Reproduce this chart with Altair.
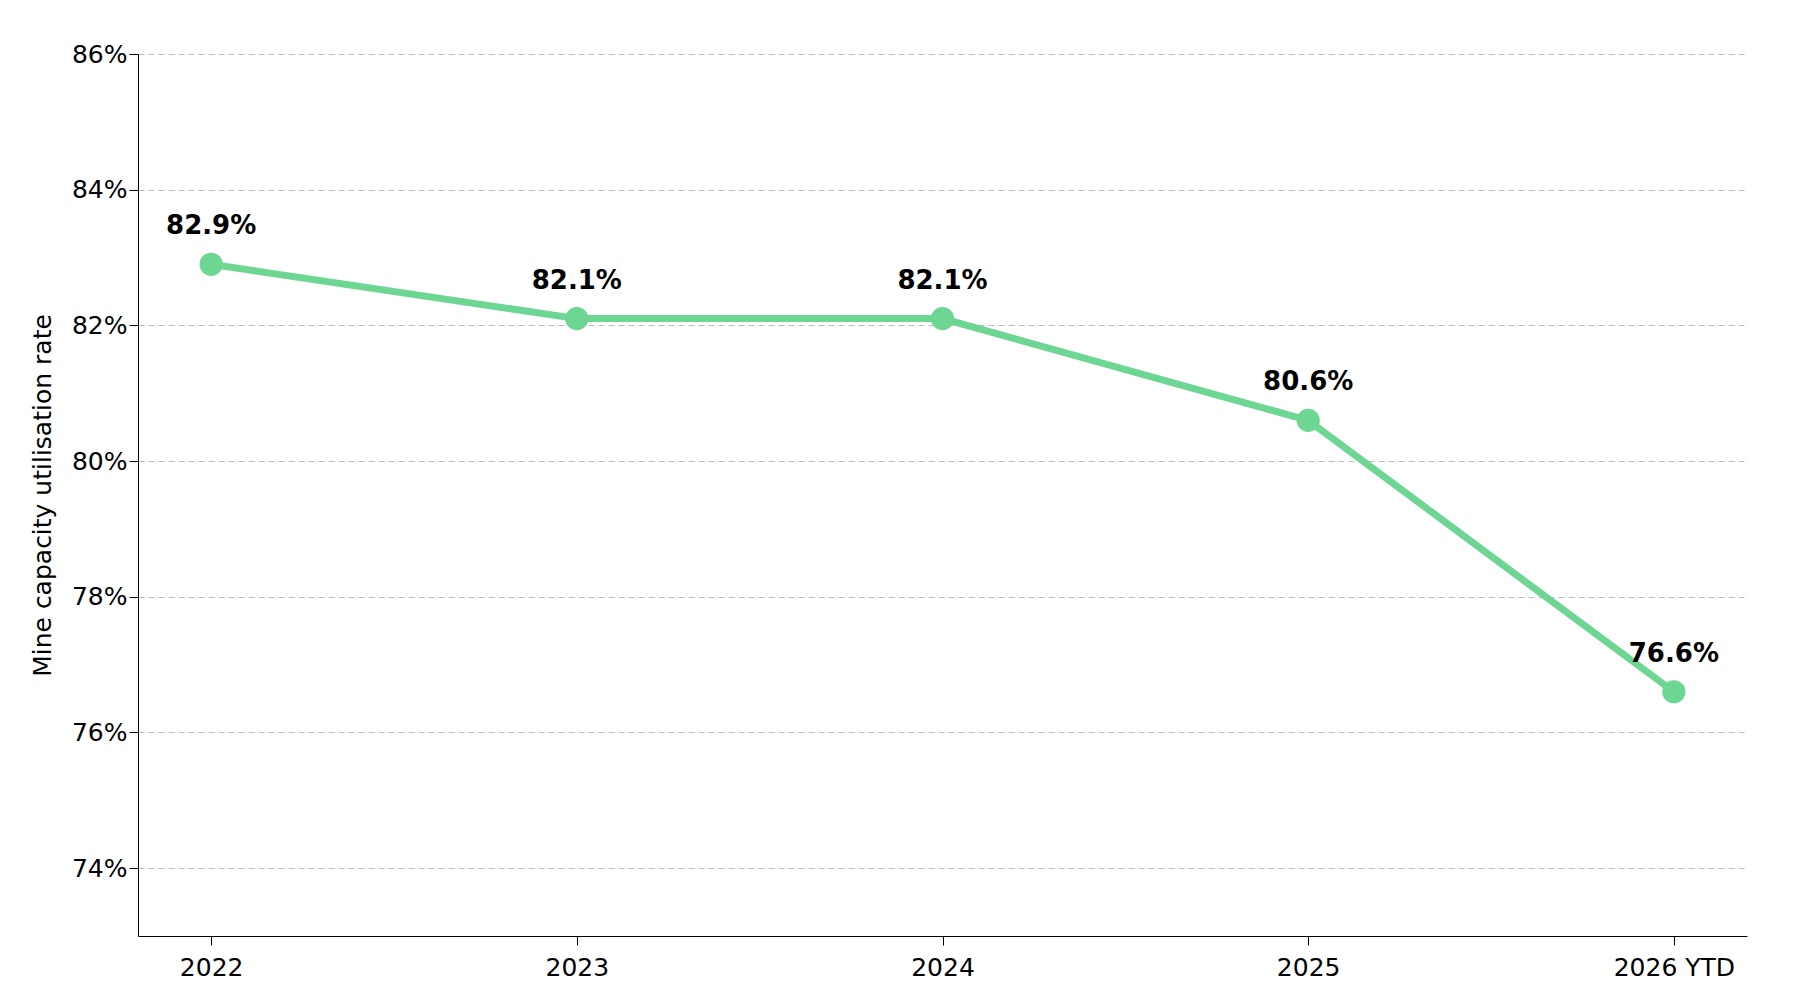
import altair as alt
import pandas as pd

years = ['2022', '2023', '2024', '2025', '2026 YTD']
rates = [82.9, 82.1, 82.1, 80.6, 76.6]
labels = ['82.9%', '82.1%', '82.1%', '80.6%', '76.6%']

df = pd.DataFrame({'year': years, 'rate': rates, 'label': labels})

green = '#6dd693'

x = alt.X('year:N', sort=years, title=None,
          scale=alt.Scale(type='point', padding=0.2),
          axis=alt.Axis(labelAngle=0, labelFontSize=25, labelColor='black', labelPadding=10,
                        tickSize=9, tickColor='black', domainColor='black', grid=False))
y = alt.Y('rate:Q', title='Mine capacity utilisation rate',
          scale=alt.Scale(domain=[73, 86], nice=False, zero=False),
          axis=alt.Axis(values=[74, 76, 78, 80, 82, 84, 86], labelExpr="datum.value + '%'",
                        labelFontSize=25, labelColor='black', titleFontSize=25,
                        titleFontWeight='normal', titleColor='black', titlePadding=16,
                        tickSize=9, tickColor='black', domainColor='black',
                        grid=True, gridDash=[6, 4], gridColor='#bbbbbb'))

base = alt.Chart(df).encode(x=x, y=y)
line = base.mark_line(color=green, strokeWidth=7)
pts = base.mark_circle(color=green, size=540, opacity=1)
txt = base.mark_text(dy=-38, fontSize=26, fontWeight='bold', color='black').encode(text='label')

chart = (line + pts + txt).properties(
    width=1609, height=882, padding={'left': 22, 'top': 34, 'right': 10, 'bottom': 10}
).configure(font='DejaVu Sans').configure_view(stroke=None, strokeWidth=0)

chart.save("out.html", embed_options={"renderer": "svg", "actions": False})
